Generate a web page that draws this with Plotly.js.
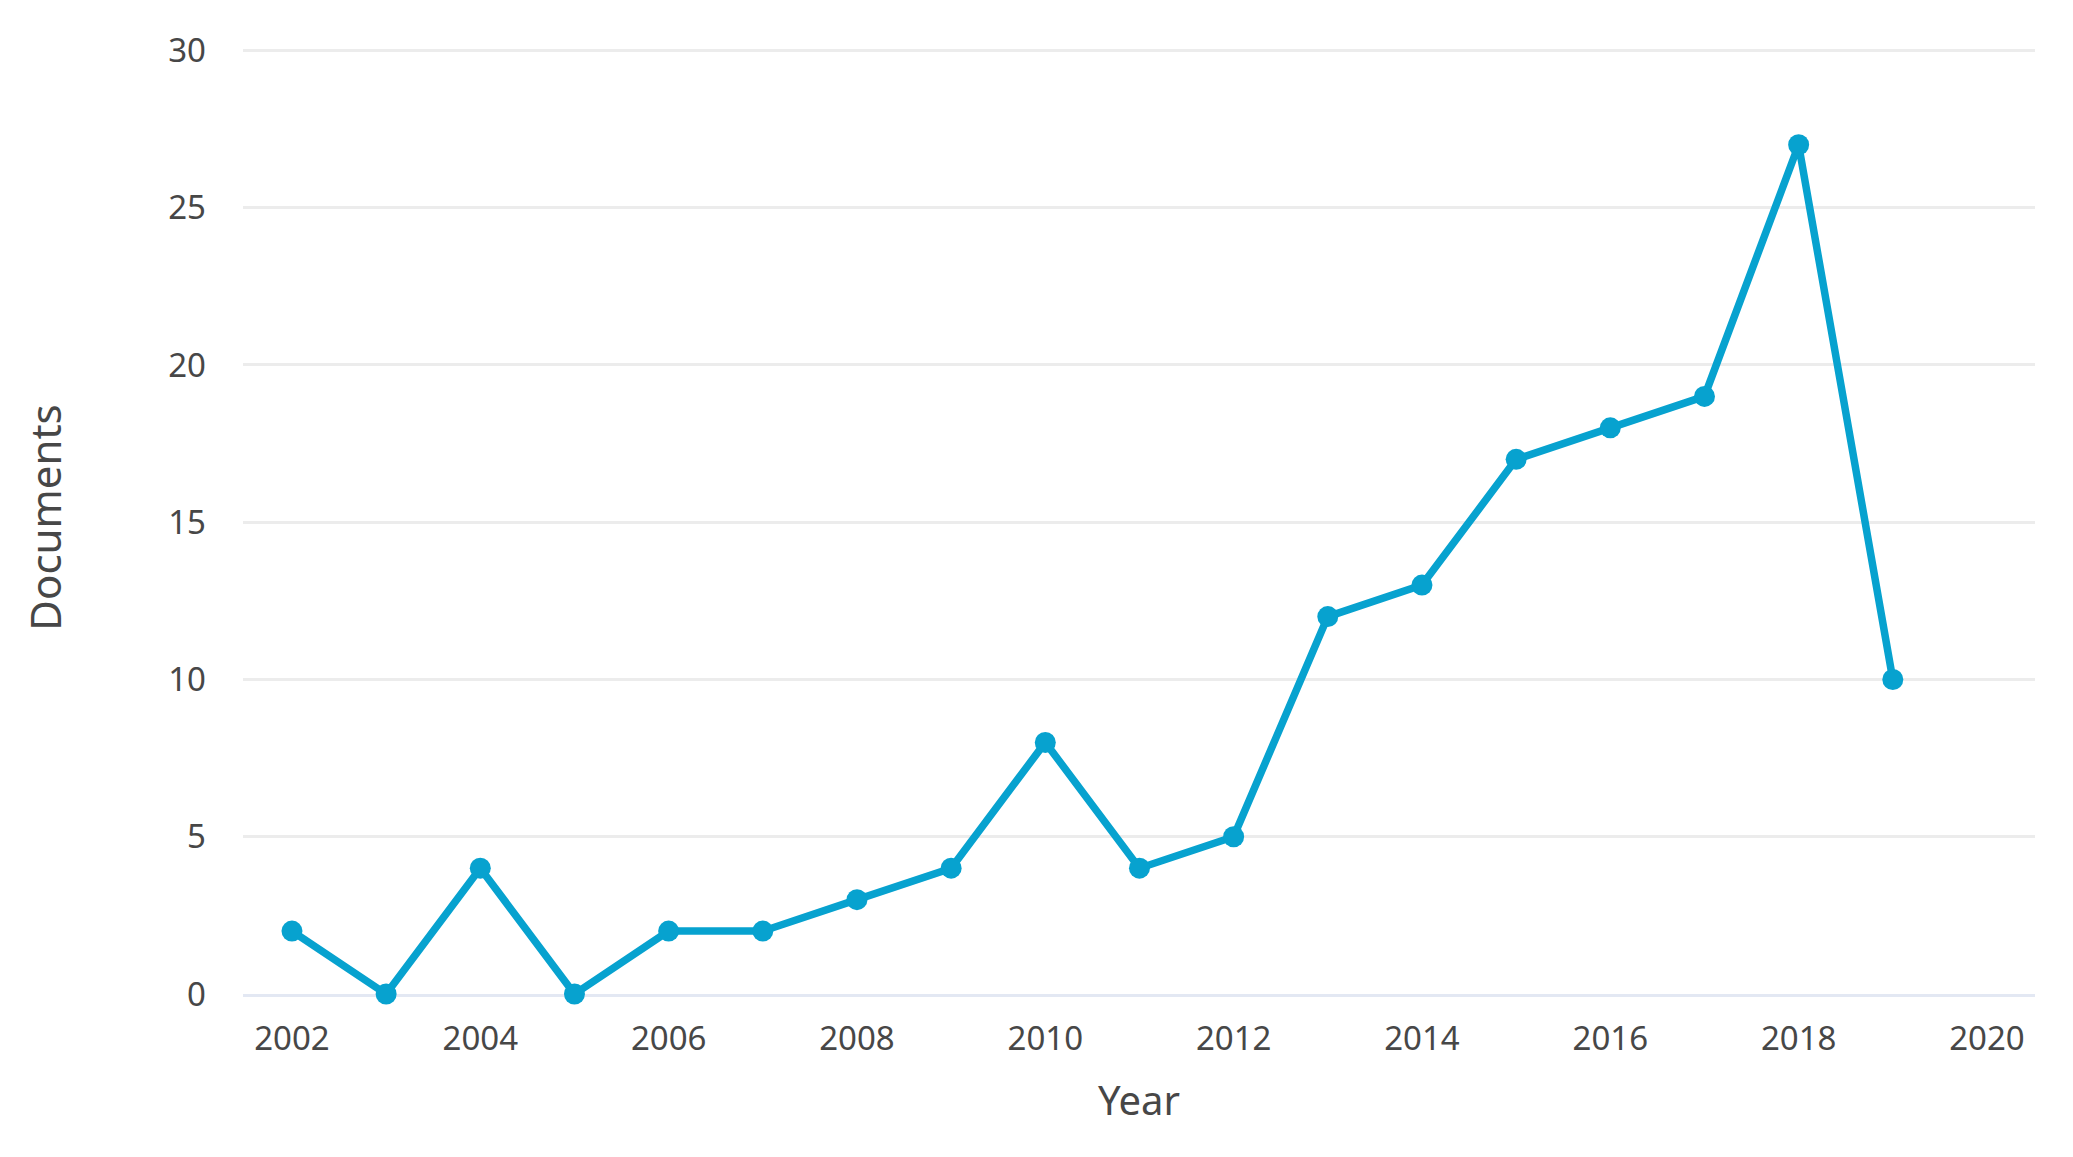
<!DOCTYPE html>
<html>
<head>
<meta charset="utf-8">
<script src="https://cdn.plot.ly/plotly-3.0.1.min.js"></script>
<style>html,body{margin:0;padding:0;background:#fff;}#chart{width:2073px;height:1157px;}</style>
</head>
<body>
<div id="chart"></div>
<script>
const years = [2002, 2003, 2004, 2005, 2006, 2007, 2008, 2009, 2010, 2011, 2012, 2013, 2014, 2015, 2016, 2017, 2018, 2019];
const documents = [2, 0, 4, 0, 2, 2, 3, 4, 8, 4, 5, 12, 13, 17, 18, 19, 27, 10];
const xTickVals = [2002, 2004, 2006, 2008, 2010, 2012, 2014, 2016, 2018, 2020];
const yTickVals = [0, 5, 10, 15, 20, 25, 30];

const lineColor = '#07a2cf';
const textColor = '#474747';
const fontFamily = '"Noto Sans", "Open Sans", sans-serif';

const trace = {
  x: years,
  y: documents,
  type: 'scatter',
  mode: 'lines+markers',
  line: {color: lineColor, width: 7.5},
  marker: {color: lineColor, size: 21},
  cliponaxis: false,
  hoverinfo: 'x+y'
};

const layout = {
  width: 2073,
  height: 1157,
  paper_bgcolor: '#ffffff',
  plot_bgcolor: '#ffffff',
  margin: {l: 243, r: 38, t: 41, b: 163},
  showlegend: false,
  font: {family: fontFamily, color: textColor, size: 33},
  xaxis: {
    range: [2001.48, 2020.51],
    tickmode: 'array',
    tickvals: xTickVals,
    ticktext: xTickVals.map(String),
    showgrid: false,
    zeroline: false,
    showline: true,
    linecolor: '#e3e8f3',
    linewidth: 3,
    layer: 'below traces',
    ticks: '',
    ticklabelstandoff: 13,
    tickfont: {size: 33, color: textColor},
    title: {text: 'Year', font: {size: 40, color: textColor}, standoff: 29},
    automargin: true,
    fixedrange: true
  },
  yaxis: {
    range: [0, 30.3],
    tickmode: 'array',
    tickvals: yTickVals,
    ticktext: yTickVals.map(String),
    showgrid: true,
    gridcolor: '#ececec',
    gridwidth: 3,
    zeroline: false,
    showline: false,
    layer: 'below traces',
    ticks: '',
    ticklabelstandoff: 36,
    tickfont: {size: 33, color: textColor},
    title: {text: 'Documents', font: {size: 42, color: textColor}, standoff: 93},
    automargin: true,
    fixedrange: true
  }
};

Plotly.newPlot('chart', [trace], layout, {displayModeBar: false, staticPlot: true});
</script>
</body>
</html>
